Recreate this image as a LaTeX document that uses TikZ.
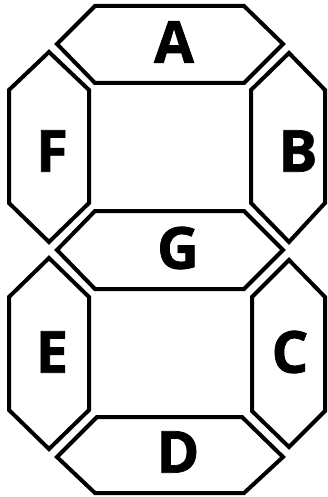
\documentclass[tikz,border=0pt]{standalone}
\usepackage{fontspec}
\setmainfont{Open Sans}
\newfontfamily\lblfont[FakeBold=1.2]{Open Sans Bold}
\begin{document}
\begin{tikzpicture}[x=1pt,y=-1pt,
  seg/.style={draw=black,line width=4pt,line join=miter,fill=white},
  lbl/.style={font=\lblfont\fontsize{58}{58}\selectfont,inner sep=0pt,anchor=center}]
\useasboundingbox (0,0) rectangle (328,497);
% A
\draw[seg] (95,6) -- (244,6) -- (283,44) -- (244,83) -- (95,83) -- (57,44) -- cycle;
% F
\draw[seg] (49,52) -- (89,90) -- (89,203) -- (49,242) -- (9,203) -- (9,90) -- cycle;
% B
\draw[seg] (289,53) -- (325,90) -- (325,203) -- (289,242) -- (251,203) -- (251,90) -- cycle;
% G
\draw[seg] (95,211) -- (244,211) -- (283,250) -- (244,289) -- (95,289) -- (57,250) -- cycle;
% E
\draw[seg] (49,258) -- (89,297) -- (89,410) -- (49,449) -- (9,410) -- (9,297) -- cycle;
% C
\draw[seg] (289,260) -- (325,297) -- (325,411) -- (289,447) -- (252,411) -- (252,297) -- cycle;
% D
\draw[seg] (97,417) -- (242,417) -- (283,457) -- (244,493) -- (95,493) -- (57,457) -- cycle;
\node[lbl] (la) at (174,42) {A};
\node[lbl] (lf) at (52,151) {F};
\node[lbl] (lb) at (298,151) {B};
\node[lbl] (lg) at (178,248) {G};
\node[lbl] (le) at (52,352) {E};
\node[lbl] (lc) at (290,352) {C};
\node[lbl] (ld) at (178,452) {D};
\end{tikzpicture}
\end{document}
